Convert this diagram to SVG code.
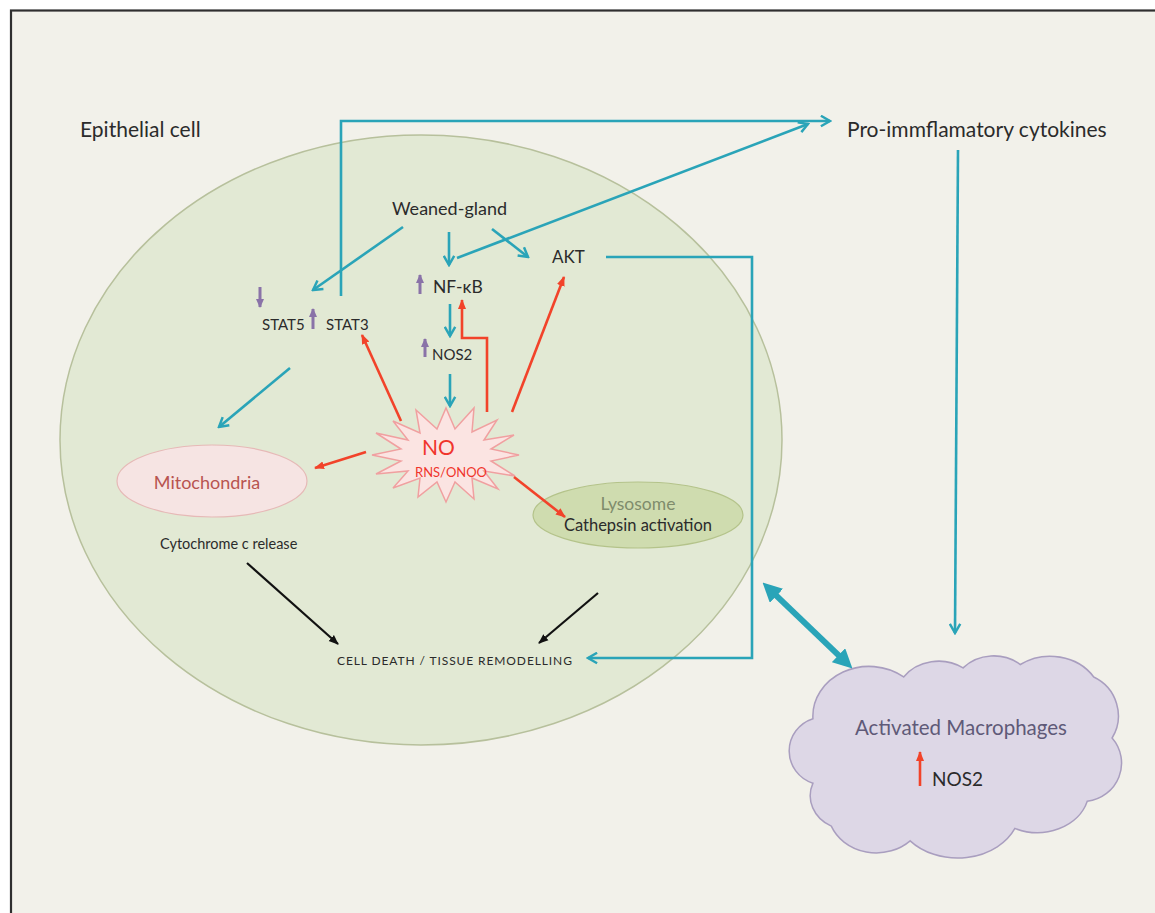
<svg xmlns="http://www.w3.org/2000/svg" width="1155" height="913" viewBox="0 0 1155 913">
  <defs>
    <style>
      text { font-family: Lato, "Open Sans", "Liberation Sans", sans-serif; fill: #2b2b2b; }
      .teal { stroke: #2aa4b8; stroke-width: 2.6; fill: none; }
      .red { stroke: #f2432a; stroke-width: 2.6; fill: none; }
      .blk { stroke: #111; stroke-width: 2.2; fill: none; }
      .pur { stroke: #8a73a8; stroke-width: 3; fill: none; }
    </style>
    <marker id="mTeal" viewBox="0 0 10 10" refX="8.5" refY="5" markerWidth="13" markerHeight="13" orient="auto" markerUnits="userSpaceOnUse">
      <path d="M1.5,1 L8.5,5 L1.5,9" fill="none" stroke="#2aa4b8" stroke-width="1.9"/>
    </marker>
    <marker id="mRed" viewBox="0 0 10 10" refX="9" refY="5" markerWidth="10" markerHeight="10" orient="auto" markerUnits="userSpaceOnUse">
      <path d="M0,1 L10,5 L0,9 Z" fill="#f2432a"/>
    </marker>
    <marker id="mBlk" viewBox="0 0 10 10" refX="9" refY="5" markerWidth="10" markerHeight="10" orient="auto" markerUnits="userSpaceOnUse">
      <path d="M0,1 L10,5 L0,9 Z" fill="#111"/>
    </marker>
    <marker id="mPur" viewBox="0 0 10 10" refX="9" refY="5" markerWidth="9" markerHeight="9" orient="auto" markerUnits="userSpaceOnUse">
      <path d="M0,0.5 L10,5 L0,9.5 Z" fill="#8a73a8"/>
    </marker>
    <marker id="mThick" viewBox="0 0 10 10" refX="5" refY="5" markerWidth="3.2" markerHeight="3.2" orient="auto-start-reverse">
      <path d="M0,0 L10,5 L0,10 Z" fill="#2aa4b8"/>
    </marker>
  </defs>

  <!-- page -->
  <rect width="1155" height="913" fill="#ffffff"/>
  <rect x="11" y="10.5" width="1160" height="920" fill="#f2f1ea" stroke="#2f2f2f" stroke-width="2.2"/>

  <!-- epithelial cell body -->
  <g id="cell">
    <ellipse cx="421" cy="440" rx="361" ry="305" fill="#e2e9d4" stroke="#b7c09c" stroke-width="1.5"/>
    <text x="80" y="137" font-size="21">Epithelial cell</text>
  </g>

  <g id="pro-inflammatory">
    <text x="847" y="137" font-size="21">Pro-immflamatory cytokines</text>
  </g>

  <g id="weaned-gland">
    <text x="392" y="215" font-size="18">Weaned-gland</text>
  </g>

  <g id="akt">
    <text x="552" y="263" font-size="17">AKT</text>
  </g>

  <g id="nfkb">
    <text x="433" y="293" font-size="17.5">NF-κB</text>
  </g>

  <g id="stat">
    <text x="262" y="330" font-size="15">STAT5</text>
    <text x="326" y="330" font-size="15">STAT3</text>
  </g>

  <g id="nos2">
    <text x="432" y="360" font-size="15">NOS2</text>
  </g>

  <g id="no">
    <polygon points="519,455 491,461 515,476 484,471 498,489 472,478 474,499 455,482 446,502 437,482 418,497 420,478 393,488 408,471 376,474 401,461 372,455 401,449 376,433 408,440 393,421 420,433 416,410 437,429 446,408 455,429 474,408 472,432 497,420 484,440 514,435 491,449"
      fill="#fbe4e2" stroke="#f0a0a0" stroke-width="1.5" stroke-linejoin="miter"/>
    <text x="422" y="455" font-size="21" style="fill:#f0352c">NO</text>
    <text x="415" y="477" font-size="13" style="fill:#f0352c">RNS/ONOO</text>
  </g>

  <g id="mitochondria">
    <ellipse cx="212" cy="481" rx="95" ry="36" fill="#f6e4e3" stroke="#e6b9b7" stroke-width="1.2"/>
    <text x="207" y="489" font-size="18" text-anchor="middle" style="fill:#b85450">Mitochondria</text>
    <text x="160" y="549" font-size="14.5">Cytochrome c release</text>
  </g>

  <g id="lysosome">
    <ellipse cx="638" cy="515" rx="105" ry="33" fill="#cfdcaf" stroke="#b4c38a" stroke-width="1.2"/>
    <text x="638" y="510" font-size="17.5" text-anchor="middle" style="fill:#7f8c6c">Lysosome</text>
    <text x="638" y="531" font-size="16.5" text-anchor="middle">Cathepsin activation</text>
  </g>

  <g id="cell-death">
    <text x="337" y="665" font-size="12" letter-spacing="0.9">CELL  DEATH / TISSUE  REMODELLING</text>
  </g>

  <g id="macrophages">
    <path transform="translate(955.5,755.5) scale(1.08,1.13) translate(-955,-752.5)"
      d="M823,720 A52,44 0 0 1 907,683 A40,34 0 0 1 962,675 A38,32 0 0 1 1015,672 A48,40 0 0 1 1083,683 A40,38 0 0 1 1100,737 A36,34 0 0 1 1077,793 A48,38 0 0 1 1010,817 A58,44 0 0 1 913,828 A45,38 0 0 1 840,815 A35,30 0 0 1 823,777 A32,30 0 0 1 823,720 Z"
      fill="#ddd7e6" stroke="#a99ebf" stroke-width="1.4"/>
    <text x="961" y="735" font-size="20.5" text-anchor="middle" style="fill:#5f5a78">Activated Macrophages</text>
    <line x1="920" y1="786" x2="920" y2="752" class="red" stroke-width="3" marker-end="url(#mRed)"/>
    <text x="932" y="786" font-size="19">NOS2</text>
  </g>

  <!-- level indicators -->
  <g id="indicators">
    <line x1="260" y1="287" x2="260" y2="307" class="pur" marker-end="url(#mPur)"/>
    <line x1="313" y1="329" x2="313" y2="309" class="pur" marker-end="url(#mPur)"/>
    <line x1="420" y1="294" x2="420" y2="275" class="pur" marker-end="url(#mPur)"/>
    <line x1="425" y1="357" x2="425" y2="339" class="pur" marker-end="url(#mPur)"/>
  </g>

  <g id="connectors">
    <!-- teal signalling -->
    <line x1="403" y1="227" x2="313" y2="290" class="teal" marker-end="url(#mTeal)"/>
    <line x1="449" y1="232" x2="449" y2="265" class="teal" marker-end="url(#mTeal)"/>
    <line x1="492" y1="229" x2="528" y2="257" class="teal" marker-end="url(#mTeal)"/>
    <line x1="457" y1="258" x2="808" y2="124" class="teal" marker-end="url(#mTeal)"/>
    <polyline points="341,296 341,121 830,121" class="teal" marker-end="url(#mTeal)"/>
    <line x1="290" y1="368" x2="219" y2="427" class="teal" marker-end="url(#mTeal)"/>
    <line x1="450" y1="304" x2="450" y2="336" class="teal" marker-end="url(#mTeal)"/>
    <line x1="450" y1="374" x2="450" y2="406" class="teal" marker-end="url(#mTeal)"/>
    <polyline points="606,257 752,257 752,658 588,658" class="teal" marker-end="url(#mTeal)"/>
    <line x1="958" y1="150" x2="955" y2="633" class="teal" marker-end="url(#mTeal)"/>
    <line x1="769.5" y1="589.2" x2="845.5" y2="661.8" stroke="#2aa4b8" stroke-width="6" marker-start="url(#mThick)" marker-end="url(#mThick)"/>

    <!-- red nitric oxide effects -->
    <line x1="401" y1="421" x2="362" y2="335" class="red" marker-end="url(#mRed)"/>
    <line x1="366" y1="452" x2="315" y2="468" class="red" marker-end="url(#mRed)"/>
    <polyline points="487,412 487,338 462,338 462,300" class="red" marker-end="url(#mRed)"/>
    <line x1="512" y1="412" x2="564" y2="277" class="red" marker-end="url(#mRed)"/>
    <line x1="514" y1="477" x2="565" y2="517" class="red" marker-end="url(#mRed)"/>

    <!-- black outcomes -->
    <line x1="247" y1="563" x2="338" y2="644" class="blk" marker-end="url(#mBlk)"/>
    <line x1="598" y1="593" x2="539" y2="643" class="blk" marker-end="url(#mBlk)"/>
  </g>
</svg>
